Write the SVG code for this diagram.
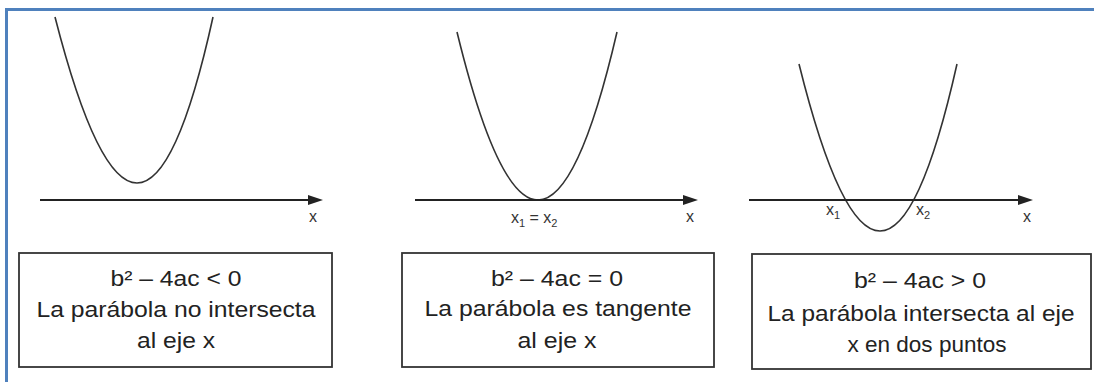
<svg xmlns="http://www.w3.org/2000/svg" width="1094" height="382" viewBox="0 0 1094 382">
  <style>
    .frame { fill: none; stroke: #4f81bd; stroke-width: 3; }
    .curve { fill: none; stroke: #333; stroke-width: 1.6; }
    .axis { fill: none; stroke: #222; stroke-width: 2; }
    .box { fill: #fff; stroke: #333; stroke-width: 1.8; }
    .t { font-family: "Liberation Sans", Arial, sans-serif; font-size: 22px; fill: #222; text-anchor: middle; }
    .lbl { font-family: "Liberation Sans", Arial, sans-serif; font-size: 16px; fill: #333; }
    .sub { font-size: 11px; }
  </style>
  <defs>
    <marker id="arr" markerUnits="userSpaceOnUse" markerWidth="15" markerHeight="10" refX="2" refY="5" orient="auto">
      <path d="M0,0 L15,5 L0,10 z" fill="#222"/>
    </marker>
  </defs>
  <rect width="1094" height="382" fill="#fff"/>
  <path class="frame" d="M6.5,382 V9.5 H1094"/>

  <g id="graph1">
    <path class="curve" d="M55,17 Q140,349 213,17"/>
    <text class="lbl" x="313" y="222" text-anchor="middle">x</text>
  </g>
  <g id="graph2">
    <path class="curve" d="M457,32 Q539,368 617,32"/>
    <text class="lbl" x="511" y="223">x<tspan class="sub" dy="4">1</tspan><tspan dy="-4"> = x</tspan><tspan class="sub" dy="4">2</tspan></text>
    <text class="lbl" x="690" y="222" text-anchor="middle">x</text>
  </g>
  <g id="graph3">
    <path class="curve" d="M799,64 Q882,398 957,64"/>
    <text class="lbl" x="826" y="215">x<tspan class="sub" dy="4">1</tspan></text>
    <text class="lbl" x="916" y="215">x<tspan class="sub" dy="4">2</tspan></text>
    <text class="lbl" x="1027" y="222" text-anchor="middle">x</text>
  </g>

  <g id="connectors">
    <path class="axis" d="M40,200 H310" marker-end="url(#arr)"/>
    <path class="axis" d="M415,200 H685" marker-end="url(#arr)"/>
    <path class="axis" d="M749,200 H1020" marker-end="url(#arr)"/>
  </g>

  <g id="box1">
    <rect class="box" x="19" y="253" width="313" height="114"/>
    <text class="t" x="176" y="286" textLength="131" lengthAdjust="spacingAndGlyphs">b² – 4ac &lt; 0</text>
    <text class="t" x="176" y="317" textLength="279" lengthAdjust="spacingAndGlyphs">La parábola no intersecta</text>
    <text class="t" x="176" y="348" textLength="78" lengthAdjust="spacingAndGlyphs">al eje x</text>
  </g>
  <g id="box2">
    <rect class="box" x="402" y="253" width="312" height="114"/>
    <text class="t" x="557" y="286" textLength="132" lengthAdjust="spacingAndGlyphs">b² – 4ac = 0</text>
    <text class="t" x="558" y="316" textLength="267" lengthAdjust="spacingAndGlyphs">La parábola es tangente</text>
    <text class="t" x="557" y="348" textLength="79" lengthAdjust="spacingAndGlyphs">al eje x</text>
  </g>
  <g id="box3">
    <rect class="box" x="752" y="254" width="339" height="115"/>
    <text class="t" x="920" y="288" textLength="132" lengthAdjust="spacingAndGlyphs">b² – 4ac &gt; 0</text>
    <text class="t" x="921" y="321" textLength="307" lengthAdjust="spacingAndGlyphs">La parábola intersecta al eje</text>
    <text class="t" x="927" y="352" textLength="159" lengthAdjust="spacingAndGlyphs">x en dos puntos</text>
  </g>
</svg>
